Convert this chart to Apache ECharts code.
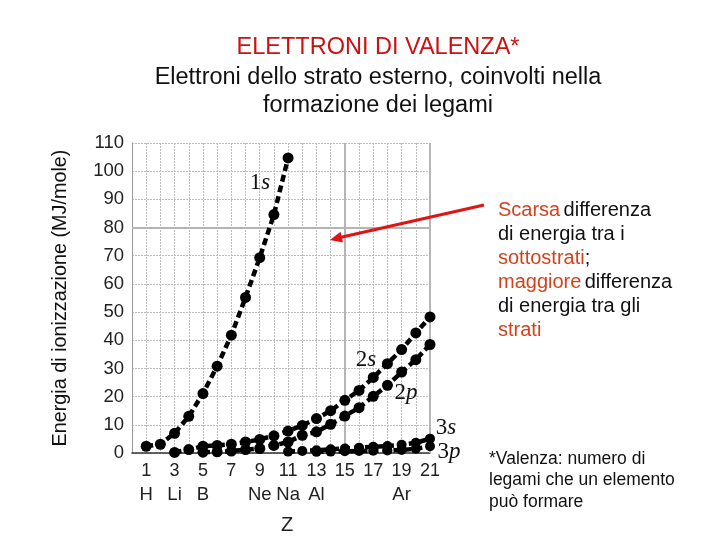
<!DOCTYPE html>
<html>
<head>
<meta charset="utf-8">
<script src="https://cdn.jsdelivr.net/npm/echarts@6/dist/echarts.min.js"></script>
<style>html,body{margin:0;padding:0;background:#fff}#c{width:720px;height:540px}</style>
</head>
<body>
<div id="c"></div>
<script>
// ---- data ----
const yTicks = [0, 10, 20, 30, 40, 50, 60, 70, 80, 90, 100, 110];
const xTickLabels = {1: 'H', 3: 'Li', 5: 'B', 9: 'Ne', 11: 'Na', 13: 'Al', 19: 'Ar'};
const z1s = [1, 2, 3, 4, 5, 6, 7, 8, 9, 10, 11];
const e1s = [2.4, 3.1, 7.0, 13.0, 21.1, 30.8, 41.8, 55.2, 69.3, 84.6, 104.7];
const z2s = [3, 4, 5, 6, 7, 8, 9, 10, 11, 12, 13, 14, 15, 16, 17, 18, 19, 20, 21];
const e2s = [0.2, 1.2, 2.4, 2.7, 3.1, 3.9, 4.8, 6.1, 7.8, 9.8, 12.2, 15.0, 18.7, 22.2, 26.8, 31.7, 36.7, 42.6, 48.3];
const z2p = [5, 6, 7, 8, 9, 10, 11, 12, 13, 14, 15, 16, 17, 18, 19, 20, 21];
const e2p = [0.3, 0.4, 0.7, 1.2, 1.6, 2.7, 3.9, 6.3, 7.5, 10.2, 13.1, 16.1, 20.1, 24.0, 28.7, 33.1, 38.5];
const z3s = [11, 12, 13, 14, 15, 16, 17, 18, 19, 20, 21];
const e3s = [0.5, 0.7, 1.0, 1.3, 1.6, 1.9, 2.2, 2.5, 2.9, 3.6, 5.1];
const z3p = [13, 14, 15, 16, 17, 18, 19, 20, 21];
const e3p = [0.4, 0.5, 0.6, 0.7, 0.8, 0.9, 1.1, 1.5, 2.4];

const pairs = (zs, es) => zs.map((z, i) => [z, es[i]]);

function lineSeries(name, zs, es, size) {
  return {
    name: name, type: 'line', data: pairs(zs, es), smooth: false,
    symbol: 'circle', symbolSize: size,
    itemStyle: {color: '#000'},
    lineStyle: {color: '#000', width: 4.5, type: [7, 4]},
    z: 5, silent: true, clip: false
  };
}

const chart = echarts.init(document.getElementById('c'));
const redW = '#d4421c';
const serifRich = {
  a: {fontFamily: 'Liberation Serif', fontSize: 23, fill: '#111'},
  b: {fontFamily: 'Liberation Serif', fontStyle: 'italic', fontSize: 23, fill: '#111'}
};
function curveLabel(x, y, n, l) {
  return {type: 'text', z: 10, style: {x: x, y: y, textAlign: 'center', textVerticalAlign: 'middle',
    text: '{a|' + n + '}{b|' + l + '}', rich: serifRich}};
}
const option = {
  animation: false,
  backgroundColor: '#fff',
  grid: {left: 132, right: 290, top: 143, bottom: 87, containLabel: false},
  xAxis: {
    type: 'value', min: 0, max: 21, interval: 1,
    name: 'Z', nameLocation: 'middle', nameGap: 62,
    nameTextStyle: {fontFamily: 'Liberation Sans', fontSize: 20, color: '#222', padding: [0, 0, 0, 12]},
    axisLine: {show: true, lineStyle: {color: '#333', width: 1.5}},
    axisTick: {show: false},
    axisLabel: {
      margin: 6, interval: 0,
      formatter: function (v) {
        if (v % 2 === 0) return '';
        const e = xTickLabels[v] || ' ';
        return '{n|' + v + '}\n{e|' + e + '}';
      },
      rich: {
        n: {fontFamily: 'Liberation Sans', fontSize: 18, color: '#222', lineHeight: 24},
        e: {fontFamily: 'Liberation Sans', fontSize: 18.5, color: '#222', lineHeight: 24}
      }
    },
    splitLine: {show: true, lineStyle: {color: '#bdbdbd', width: 1, type: [2, 1]}}
  },
  yAxis: {
    type: 'value', min: yTicks[0], max: yTicks[yTicks.length - 1], interval: 10,
    name: 'Energia di ionizzazione (MJ/mole)', nameLocation: 'middle', nameGap: 61,
    nameTextStyle: {fontFamily: 'Liberation Sans', fontSize: 19.8, color: '#111'},
    axisLine: {show: true, lineStyle: {color: '#999', width: 1}},
    axisTick: {show: false},
    axisLabel: {fontFamily: 'Liberation Sans', fontSize: 18.5, color: '#222', margin: 8},
    splitLine: {show: true, lineStyle: {color: '#bdbdbd', width: 1, type: [2, 1]}}
  },
  series: [
    Object.assign(lineSeries('1s', z1s, e1s, 11), {
      markLine: {
        silent: true, symbol: 'none', label: {show: false},
        lineStyle: {color: '#b5b5b5', width: 2, type: 'solid'},
        data: [{yAxis: 80}, {xAxis: 15}, {xAxis: 21}]
      }
    }),
    lineSeries('2s', z2s, e2s, 11),
    lineSeries('2p', z2p, e2p, 11),
    lineSeries('3s', z3s, e3s, 10),
    lineSeries('3p', z3p, e3p, 10)
  ],
  graphic: [
    {type: 'text', style: {text: 'ELETTRONI DI VALENZA*', x: 378, y: 48, textAlign: 'center', textVerticalAlign: 'middle', fill: '#cc1111', font: '23.5px "Liberation Sans"'}},
    {type: 'text', style: {text: 'Elettroni dello strato esterno, coinvolti nella', x: 378, y: 78, textAlign: 'center', textVerticalAlign: 'middle', fill: '#111', font: '23.5px "Liberation Sans"'}},
    {type: 'text', style: {text: 'formazione dei legami', x: 378, y: 106, textAlign: 'center', textVerticalAlign: 'middle', fill: '#111', font: '23.5px "Liberation Sans"'}},
    curveLabel(260, 183, '1', 's'),
    curveLabel(366, 360, '2', 's'),
    curveLabel(406, 393, '2', 'p'),
    curveLabel(446, 428, '3', 's'),
    curveLabel(449, 452, '3', 'p'),
    // arrow
    {type: 'line', z: 10, shape: {x1: 484, y1: 205, x2: 340, y2: 237.5}, style: {stroke: '#e01414', lineWidth: 3}},
    {type: 'polygon', z: 10, shape: {points: [[330, 240], [343, 242.5], [340.5, 231.8]]}, style: {fill: '#e01414'}},
    // right explanatory text
    {type: 'text', style: {x: 498, y: 198, textVerticalAlign: 'top', text:
      '{r|Scarsa} {k|differenza}\n{k|di energia tra i}\n{r|sottostrati}{k|;}\n{r|maggiore} {k|differenza}\n{k|di energia tra gli}\n{r|strati}',
      rich: {
        r: {fontFamily: 'Liberation Sans', fontSize: 20, fill: redW, lineHeight: 24},
        k: {fontFamily: 'Liberation Sans', fontSize: 20, fill: '#111', lineHeight: 24}
      }}},
    {type: 'text', style: {x: 489, y: 448, textVerticalAlign: 'top', text: '*Valenza: numero di\nlegami che un elemento\npuò formare',
      font: '17.5px "Liberation Sans"', fill: '#111', lineHeight: 21.5}}
  ]
};
chart.setOption(option);
</script>
</body>
</html>
